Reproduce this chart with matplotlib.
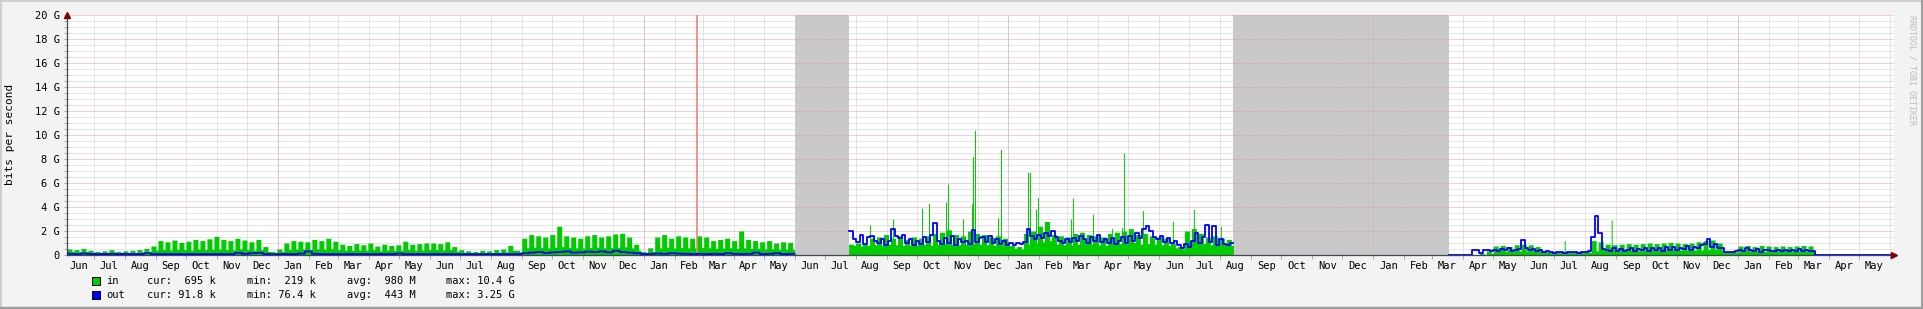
import numpy as np
import pandas as pd
import matplotlib
matplotlib.use('Agg')
import matplotlib.pyplot as plt
import matplotlib.dates as mdates
from matplotlib.ticker import MultipleLocator, NullFormatter, FuncFormatter
from matplotlib.patches import Rectangle
from matplotlib.lines import Line2D

W, H = 1923, 309
MONO = 'DejaVu Sans Mono'

####################################################
# Data (Gbit/s)
graph_start = '2015-06-04'
graph_end = '2020-06-05'
unknown_spans = [('2017-06-01', '2017-07-25'), ('2018-08-14', '2019-03-18')]
vrule_date = '2017-02-23'

# segment 1: weekly weekday peak / weekend low of "in", weekly "out"
seg1_start = '2015-06-04'
seg1_in_peak = [0.50, 0.45, 0.55, 0.40,
                0.30, 0.35, 0.45, 0.30, 0.35, 0.40, 0.45,
                0.55, 0.75,
                1.20, 1.10, 1.25, 1.05, 1.15, 1.30, 1.20, 1.35, 1.55, 1.30, 1.20, 1.40, 1.25, 1.10, 1.30,
                0.70, 0.30, 0.50,
                1.00, 1.20, 1.15, 1.10, 1.30, 1.20, 1.40, 1.15,
                0.90, 0.80, 0.95, 0.85, 1.00, 0.75, 0.90, 0.80, 0.85, 1.15, 0.90, 0.95, 1.00,
                1.00, 0.95, 1.10, 0.70,
                0.45, 0.35, 0.30, 0.40, 0.35, 0.45, 0.50, 0.80, 0.40,
                1.40, 1.70, 1.60, 1.50, 1.70, 2.40, 1.60, 1.50, 1.40, 1.60, 1.70, 1.50, 1.60, 1.75, 1.80, 1.50,
                0.90, 0.30, 0.60,
                1.50, 1.70, 1.40, 1.60, 1.50, 1.40, 1.60, 1.50,
                1.20, 1.30, 1.40, 1.20, 2.00, 1.30, 1.20, 1.10, 1.20, 1.00, 1.10, 1.05]
seg1_in_low = [0.30, 0.28, 0.30, 0.25,
               0.20, 0.22, 0.25, 0.20, 0.20, 0.22, 0.25,
               0.30, 0.40,
               0.45, 0.42, 0.48, 0.45, 0.40, 0.50, 0.45, 0.48, 0.50, 0.45, 0.42, 0.50, 0.45, 0.40, 0.45,
               0.30, 0.20, 0.30,
               0.45, 0.50, 0.48, 0.45, 0.50, 0.48, 0.52, 0.45,
               0.40, 0.38, 0.42, 0.40, 0.45, 0.35, 0.40, 0.38, 0.40, 0.45, 0.40, 0.42, 0.45,
               0.45, 0.42, 0.45, 0.30,
               0.22, 0.20, 0.18, 0.22, 0.20, 0.22, 0.25, 0.40, 0.22,
               0.60, 0.65, 0.62, 0.60, 0.65, 0.70, 0.62, 0.60, 0.58, 0.62, 0.65, 0.60, 0.62, 0.65, 0.68, 0.60,
               0.40, 0.20, 0.30,
               0.60, 0.65, 0.58, 0.62, 0.60, 0.58, 0.62, 0.60,
               0.55, 0.58, 0.60, 0.55, 0.60, 0.55, 0.55, 0.50, 0.52, 0.48, 0.50, 0.48]
seg1_out = [0.10, 0.08, 0.12, 0.08, 0.07, 0.08, 0.10, 0.07, 0.08, 0.07, 0.08,
            0.15, 0.08, 0.08, 0.07, 0.08, 0.07, 0.08, 0.07, 0.08, 0.07, 0.08, 0.07, 0.08,
            0.18, 0.10, 0.15, 0.18, 0.08, 0.05, 0.08,
            0.08, 0.07, 0.12, 0.30, 0.10, 0.08, 0.07, 0.08,
            0.07, 0.08, 0.07, 0.08, 0.07, 0.08, 0.07, 0.08, 0.12, 0.08, 0.07, 0.08, 0.07,
            0.08, 0.07, 0.08, 0.07, 0.06, 0.07, 0.06, 0.07, 0.06, 0.07, 0.08, 0.07, 0.08,
            0.15, 0.20, 0.25, 0.18, 0.22, 0.25, 0.30, 0.20, 0.22, 0.28, 0.25, 0.30, 0.22, 0.35, 0.25, 0.20,
            0.15, 0.08, 0.10,
            0.12, 0.10, 0.15, 0.12, 0.10, 0.08, 0.10, 0.08,
            0.10, 0.08, 0.15, 0.10, 0.08, 0.10, 0.20, 0.08, 0.10, 0.15, 0.08, 0.10]

# segment 2: weekly "in", twice-weekly "out", single-day peaks of "in"
seg2_start = '2017-07-25'
seg2_in_peak = [0.9, 1.0, 0.9, 1.4, 1.5,
                1.7, 1.4, 1.6, 1.3, 1.5,
                1.4, 1.6, 1.8, 1.9, 2.1,
                1.7, 1.6, 2.0, 1.8, 1.7,
                1.5, 1.6, 1.4, 0.8, 0.7,
                1.8, 2.0, 2.4, 2.8, 1.7,
                1.6, 1.5, 1.8, 1.9, 1.7,
                1.6, 1.5, 1.8, 1.9, 2.0,
                2.2, 1.7, 1.8, 1.6, 1.5,
                1.4, 1.0, 0.7, 2.0, 2.2,
                1.8, 1.5, 1.6, 1.4, 1.3]
seg2_in_low = [0.80, 0.75, 0.80, 0.85, 0.80,
               0.90, 0.85, 0.80, 0.80, 0.85,
               0.90, 0.80, 0.90, 0.95, 0.90,
               0.85, 0.90, 0.95, 0.90, 0.85,
               0.80, 0.85, 0.80, 0.55, 0.50,
               0.90, 1.00, 1.10, 1.20, 0.90,
               0.85, 0.80, 0.90, 0.95, 0.90,
               0.85, 0.80, 0.90, 0.95, 1.00,
               1.05, 0.90, 0.95, 0.90, 0.85,
               0.80, 0.60, 0.50, 1.00, 1.05,
               0.95, 0.85, 0.90, 0.80, 0.80]
seg2_out = [2.0, 1.3, 1.1, 1.7, 0.9, 1.5, 1.6, 1.2,
            1.0, 1.3, 0.8, 1.2, 2.2, 1.6, 1.4, 1.7,
            1.0, 1.3, 0.8, 1.2, 0.9, 1.5, 1.1, 1.7, 2.7,
            1.2, 0.9, 1.4, 1.0, 1.6, 0.8, 1.3, 1.1,
            1.2, 0.9, 2.1, 1.1, 1.4, 1.5, 1.1, 1.6, 1.0, 1.3,
            0.9, 1.2, 0.8, 1.0, 0.8, 1.0, 0.9, 1.1,
            2.2, 1.6, 1.3, 1.7, 1.4, 1.8, 1.6, 2.0, 1.5,
            1.2, 1.0, 1.3, 1.1, 1.4,
            1.2, 1.6, 1.3, 1.0, 1.5, 1.2, 1.7, 1.1, 1.3,
            1.0, 1.4, 0.9, 1.2, 1.5, 1.0,
            1.6, 1.2, 1.8, 1.4, 2.2, 2.4, 2.0, 1.5,
            1.3, 1.6, 1.1, 1.4, 1.0, 1.2, 0.8, 0.6, 0.9, 0.7,
            1.2, 1.8, 1.0, 1.5, 2.5, 1.1, 2.4, 0.8, 1.3, 0.9, 0.8, 1.0]
seg2_spike_day = [21, 44, 73, 80, 97, 99, 114, 123, 124, 126, 149, 152, 179, 181,
                  187, 189, 222, 224, 244, 263, 273, 275, 294, 324, 345, 372]
seg2_spike_val = [2.5, 3.0, 3.9, 4.3, 4.4, 5.9, 3.0, 4.25, 8.2, 10.4, 3.1, 8.8, 6.9, 6.9,
                  3.8, 4.8, 3.0, 4.75, 3.4, 2.2, 2.3, 8.5, 3.7, 2.8, 3.8, 2.4]

# segment 3
seg3_start = '2019-04-10'
seg3_in_peak = [0.05, 0.15, 0.35, 0.75, 0.80, 0.70, 0.85, 0.90, 0.85, 0.70,
                0.35, 0.30, 0.28, 0.30, 0.30, 0.32, 0.35, 1.20, 1.10,
                0.90, 0.85, 0.90, 0.95, 0.90, 0.95, 1.00, 0.95, 1.00, 1.05, 1.00,
                0.95, 1.00, 1.10, 1.20, 1.25, 1.00, 0.30, 0.30,
                0.75, 0.80, 0.70, 0.80, 0.75, 0.70, 0.75, 0.70, 0.75, 0.80, 0.75]
seg3_in_low = [0.02, 0.05, 0.15, 0.30, 0.32, 0.28, 0.35, 0.35, 0.33, 0.30,
               0.22, 0.20, 0.20, 0.20, 0.22, 0.20, 0.22, 0.35, 0.40,
               0.35, 0.33, 0.35, 0.38, 0.35, 0.38, 0.40, 0.38, 0.40, 0.42, 0.40,
               0.38, 0.40, 0.42, 0.45, 0.48, 0.40, 0.25, 0.25,
               0.30, 0.32, 0.30, 0.30, 0.32, 0.30, 0.30, 0.30, 0.32, 0.30, 0.30]
seg3_out = [0.40, 0.45, 0.15, 0.38, 0.40, 0.30,
            0.45, 0.35, 0.50, 0.40, 0.55, 0.35, 0.45, 0.50,
            1.25, 0.60, 0.40, 0.50, 0.35, 0.40,
            0.25, 0.30, 0.22, 0.20, 0.25, 0.22, 0.20, 0.25, 0.22, 0.25, 0.20, 0.22, 0.25, 0.30,
            1.50, 3.25, 1.80, 0.50,
            0.40, 0.30, 0.55, 0.35, 0.50, 0.30, 0.45, 0.55, 0.35, 0.50, 0.40, 0.55,
            0.35, 0.60, 0.40, 0.55, 0.35, 0.65, 0.45, 0.70, 0.40, 0.60, 0.50, 0.75, 0.45, 0.65, 0.55, 0.80,
            0.90, 1.30, 0.70, 0.95, 0.60, 0.55,
            0.28, 0.25, 0.28, 0.35,
            0.45, 0.35, 0.55, 0.40, 0.30, 0.50, 0.25, 0.40, 0.45, 0.30, 0.35,
            0.45, 0.35, 0.40, 0.30, 0.45, 0.35, 0.50, 0.30, 0.45, 0.35, 0.30]
seg3_spike_day = [92, 139]
seg3_spike_val = [1.2, 2.9]

# legend
legend_names = ['in', 'out']
legend_colors = ['#00CC00', '#0000FF']
stat_names = ['cur', 'min', 'avg', 'max']
stat_values = [['695 k', '219 k', '980 M', '10.4 G'],
               ['91.8 k', '76.4 k', '443 M', '3.25 G']]


####################################################
# Build daily series
def weekly_in(start, peak, low, spike_day=(), spike_val=()):
    vals = np.column_stack([np.asarray(peak)] * 5 + [np.asarray(low)] * 2).ravel()
    for d, v in zip(spike_day, spike_val):
        vals[d] = max(vals[d], v)
    return pd.Series(vals, index=pd.date_range(start, periods=len(vals), freq='D'))

def out_series(start, vals, per_week):
    if per_week == 1:
        reps = np.full(len(vals), 7)
    else:
        reps = np.tile([4, 3], len(vals) // 2)
    v = np.repeat(vals, reps)
    return pd.Series(v, index=pd.date_range(start, periods=len(v), freq='D'))

in1 = weekly_in(seg1_start, seg1_in_peak, seg1_in_low)
out1 = out_series(seg1_start, seg1_out, 1)
in2 = weekly_in(seg2_start, seg2_in_peak, seg2_in_low, seg2_spike_day, seg2_spike_val)
out2 = out_series(seg2_start, seg2_out, 2)
in3 = weekly_in(seg3_start, seg3_in_peak, seg3_in_low, seg3_spike_day, seg3_spike_val)
out3 = out_series(seg3_start, seg3_out, 2)
# known-zero traffic around segment 3
idx3 = pd.date_range(unknown_spans[1][1], graph_end, freq='D')
in3 = in3.reindex(idx3, fill_value=0.0)
out3 = out3.reindex(idx3, fill_value=0.0)


####################################################
# Plot
fig = plt.figure(figsize=(W / 100, H / 100), dpi=100, facecolor='#F3F3F3')
ax = fig.add_axes([67 / W, (H - 255) / H, (1894 - 67) / W, 240 / H])
ax.set_facecolor('white')

for a, b in unknown_spans:
    ax.axvspan(pd.Timestamp(a), pd.Timestamp(b), color='#C8C8C8', lw=0, zorder=0.3)

def draw(s_in, s_out):
    x = np.append(s_in.index.values, (s_in.index[-1] + pd.Timedelta(days=1)).to_datetime64())
    ax.fill_between(x, np.append(s_in.values, s_in.values[-1]), step='post',
                    color='#00CC00', lw=0, zorder=2)
    xo = np.append(s_out.index.values, (s_out.index[-1] + pd.Timedelta(days=1)).to_datetime64())
    ax.step(xo, np.append(s_out.values, s_out.values[-1]), where='post',
            color='#0000FF', lw=1.3, zorder=3)

draw(in1, out1)
draw(in2, out2)
draw(in3, out3)

ax.axvline(pd.Timestamp(vrule_date), color='#F08080', lw=1.2, zorder=2.5)

ax.set_xlim(pd.Timestamp(graph_start), pd.Timestamp(graph_end))
ax.set_ylim(0, 20)

# grid
dot = (0, (1, 1))
ax.set_axisbelow(True)
ax.yaxis.set_major_locator(MultipleLocator(2))
ax.yaxis.set_minor_locator(MultipleLocator(0.5))
ax.yaxis.set_major_formatter(FuncFormatter(lambda v, p: '0' if v == 0 else f'{v:g} G'))
ax.grid(which='minor', axis='y', color='#CCCCCC', ls=dot, lw=0.72)
ax.grid(which='major', axis='y', color='#E8A0A0', ls=dot, lw=0.72)

ax.xaxis.set_major_locator(mdates.MonthLocator())
ax.xaxis.set_major_formatter(NullFormatter())
ax.xaxis.set_minor_locator(mdates.MonthLocator(bymonthday=16))
ax.xaxis.set_minor_formatter(mdates.DateFormatter('%b'))
ax.grid(which='major', axis='x', color='#CCCCCC', ls=dot, lw=0.72)
for yr in pd.date_range(graph_start, graph_end, freq='YS'):
    ax.axvline(yr, color='#E8A0A0', ls=dot, lw=0.72, zorder=0.6)

ax.tick_params(axis='x', which='major', length=3, color='#AAAAAA', width=0.7)
ax.tick_params(axis='x', which='minor', length=0, pad=4)
ax.tick_params(axis='y', which='both', length=2, color='#AAAAAA', width=0.7, pad=3)
for lab in ax.get_xticklabels(minor=True) + ax.get_yticklabels():
    lab.set_fontfamily(MONO)
    lab.set_fontsize(7.5)

for side in ['top', 'right']:
    ax.spines[side].set_visible(False)
for side in ['left', 'bottom']:
    ax.spines[side].set_color('#404850')
    ax.spines[side].set_linewidth(0.9)
ax.plot(0, 1.0, marker='^', ms=4, color='#7F0000', transform=ax.transAxes, clip_on=False, zorder=5)
ax.plot(1.0, 0, marker='>', ms=4, color='#7F0000', transform=ax.transAxes, clip_on=False, zorder=5)

def px(x, y):
    return x / W, 1 - y / H

fig.text(*px(10, 134), 'bits per second', rotation=90, va='center', ha='center',
         family=MONO, fontsize=8)
fig.text(*px(1912, 15), 'RRDTOOL / TOBI OETIKER', rotation=270, va='top', ha='center',
         family=MONO, fontsize=6, color='#BBBBBB')

# legend
stat_x = [147, 247, 347, 446]
for i, (name, col) in enumerate(zip(legend_names, legend_colors)):
    yc = 281 + 14 * i
    bx, by = px(92, yc + 4)
    fig.add_artist(Rectangle((bx, by), 8 / W, 8 / H, transform=fig.transFigure,
                             facecolor=col, edgecolor='black', lw=0.7))
    fig.text(*px(106, yc), name, va='center', ha='left', family=MONO, fontsize=7.5)
    for sx, sn, sv in zip(stat_x, stat_names, stat_values[i]):
        fig.text(*px(sx, yc), f'{sn}: {sv:>6}', va='center', ha='left',
                 family=MONO, fontsize=7.5)

# frame
fig.add_artist(Line2D([0, 1], [1 - 1 / H, 1 - 1 / H], color='#CFCFCF', lw=1.5, transform=fig.transFigure))
fig.add_artist(Line2D([1 / W, 1 / W], [0, 1], color='#CFCFCF', lw=1.5, transform=fig.transFigure))
fig.add_artist(Line2D([0, 1], [1.2 / H, 1.2 / H], color='#9E9E9E', lw=1.7, transform=fig.transFigure))
fig.add_artist(Line2D([1 - 1 / W, 1 - 1 / W], [0, 1], color='#9E9E9E', lw=1.5, transform=fig.transFigure))

fig.savefig('out.png', dpi=100, facecolor=fig.get_facecolor())
